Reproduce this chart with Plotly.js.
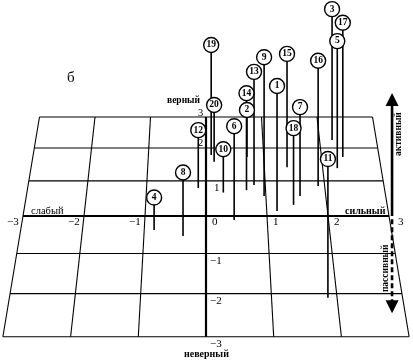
<!DOCTYPE html>
<html><head><meta charset="utf-8">
<script src="https://cdn.plot.ly/plotly-3.0.1.min.js"></script>
<style>html,body{margin:0;padding:0;background:#fff}#chart{width:413px;height:360px}
#chart .main-svg{will-change:transform}</style>
</head><body><div id="chart"></div>
<script>
// ---- data ----
const pointLabels = ['1','2','3','4','5','6','7','8','9','10','11','12','13','14','15','16','17','18','19','20'];
const strength    = [1.17, 0.71, 2.22, -0.84, 2.25, 0.46, 1.57, -0.37, 0.97, 0.29, 1.86, -0.13, 0.81, 0.68, 1.39, 1.89, 2.37, 1.45, 0.09, 0.14];   // слабый .. сильный
const correctness = [0.14, 1.72, 2.25, -0.38, 1.38, -0.11, 0.56, -0.54, 0.56, 0.66, -2.10, 0.79, 0.88, 0.73, 1.41, 0.85, 1.72, 0.31, 1.78, 1.57]; // неверный .. верный
const activity    = [3.06, 1.21, 3.43, 0.78, 3.24, 2.28, 2.21, 1.52, 3.45, 1.08, 3.15, 1.45, 2.84, 2.42, 2.89, 3.14, 3.46, 1.89, 2.84, 1.46];   // пассивный .. активный
const gridTicks   = [-3, -2, -1, 0, 1, 2, 3];
const xTickLabels = ['−3', '−2', '−1', '0', '1', '2', '3'];
const yTickLabels = ['−3', '−2', '−1', '0', '1', '2', '3'];
const activeMax = 3.0, passiveMin = -2.37;

// ---- perspective scale (floor u,v ; height z) -> plot coordinates ----
const K = 0.033, W = 61, HV = -29.14, CX = 206, CY = 216, ZS = 41;
function proj(u, v, z) {
  const d = 1 + K * v;
  return [CX + W * u / d, (HV * v + CY - ZS * (z || 0)) / d];
}
function segTrace(segs, width, dash) {
  const x = [], y = [];
  segs.forEach(s => { const a = proj(...s[0]), b = proj(...s[1]); x.push(a[0], b[0], null); y.push(a[1], b[1], null); });
  return {type: 'scatter', mode: 'lines', x, y, hoverinfo: 'skip',
          line: {color: '#000', width, dash: dash || 'solid'}};
}
const lo = gridTicks[0], hi = gridTicks[gridTicks.length - 1];
const gridSegs = [];
gridTicks.forEach(t => {
  if (t !== 0) gridSegs.push([[lo, t, 0], [hi, t, 0]]);
  if (t !== 0) gridSegs.push([[t, lo, 0], [t, hi, 0]]);
});
const traces = [];
traces.push(segTrace(gridSegs, 1.1));
traces.push(segTrace([[[lo, 0, 0], [hi, 0, 0]]], 1.8));
traces.push(segTrace([[[0, hi, 0], [0, lo, 0]]], 2.2));
// activity axis
const ax3 = 3.05;
traces.push(segTrace([[[ax3, 0, 0], [ax3, 0, activeMax - 0.15]]], 2.6));
traces.push(segTrace([[[ax3, 0, -0.08], [ax3, 0, passiveMin + 0.2]]], 2.6, '5px,3px'));
// stems
const stems = strength.map((u, i) => [[u, correctness[i], 0], [u, correctness[i], activity[i]]]);
traces.push(segTrace(stems, 1.6));
// circles
const cx = [], cy = [];
strength.forEach((u, i) => { const p = proj(u, correctness[i], activity[i]); cx.push(p[0]); cy.push(p[1]); });
traces.push({type: 'scatter', mode: 'markers+text', x: cx, y: cy, text: pointLabels,
  textposition: 'middle center', hoverinfo: 'skip',
  textfont: {family: 'Liberation Serif', size: 9.5, color: '#000', weight: 'bold'},
  marker: {size: 15, color: '#fff', line: {color: '#000', width: 1.4}}});

// ---- text ----
const serif = 'Liberation Serif';
const ann = [];
function label(text, x, y, xa, ya, size, bold, angle) {
  ann.push({text, x, y, xref: 'x', yref: 'y', xanchor: xa, yanchor: ya, showarrow: false,
    textangle: angle || 0, font: {family: serif, size, color: '#000', weight: bold ? 'bold' : 'normal'}});
}
gridTicks.forEach((t, i) => {
  const p = proj(t, 0, 0);
  if (t < 0) label(xTickLabels[i], p[0] - 2.5, p[1] + 5, 'right', 'middle', 11);
  else if (t > 0) label(xTickLabels[i], p[0] + (t === hi ? 7 : 4), p[1] + 5, 'left', 'middle', 11);
});
gridTicks.forEach((t, i) => {
  const p = proj(0, t, 0);
  if (t >= 2) label(yTickLabels[i], p[0] - 1, p[1] - 5, 'right', 'middle', 10.5);
  else if (t === 1) label(yTickLabels[i], p[0] + 6, p[1] + 6.5, 'left', 'middle', 11);
  else if (t === 0) label(yTickLabels[i], p[0] + 4, p[1] + 5, 'left', 'middle', 11);
  else label(yTickLabels[i], p[0] + 2, p[1] + 6.5, 'left', 'middle', 11);
});
const axTop = proj(0, hi, 0), axBot = proj(0, lo, 0);
label('верный', axTop[0] - 3, axTop[1] - 17.5, 'right', 'middle', 9.5, true);
label('неверный', axBot[0], axBot[1] + 17, 'center', 'middle', 10, true);
const axLeft = proj(lo, 0, 0), axRight = proj(hi, 0, 0);
label('слабый', axLeft[0] + 6, axLeft[1] - 6, 'left', 'middle', 10.5);
label('сильный', axRight[0] - 1, axRight[1] - 6, 'right', 'middle', 10, true);
const actPos = proj(ax3, 0, 2.0), pasPos = proj(ax3, 0, -1.27);
label('активный', actPos[0] + 6, actPos[1], 'center', 'middle', 9.5, true, -90);
label('пассивный', pasPos[0] - 7, pasPos[1], 'center', 'middle', 9.5, true, -90);
label('б', 71, 77, 'center', 'middle', 15);
// arrowheads
const aTip = proj(ax3, 0, activeMax), aTail = proj(ax3, 0, activeMax - 0.3);
const pTip = proj(ax3, 0, passiveMin), pTail = proj(ax3, 0, passiveMin + 0.3);
[[aTip, aTail], [pTip, pTail]].forEach(([tip, tail]) => ann.push({
  x: tip[0], y: tip[1], ax: tail[0], ay: tail[1], xref: 'x', yref: 'y', axref: 'x', ayref: 'y',
  text: '', showarrow: true, arrowhead: 2, arrowsize: 1, arrowwidth: 2.6, arrowcolor: '#000', standoff: 0}));

Plotly.newPlot('chart', traces, {
  width: 413, height: 360, margin: {l: 0, r: 0, t: 0, b: 0},
  paper_bgcolor: '#fff', plot_bgcolor: '#fff', showlegend: false,
  xaxis: {range: [0, 413], visible: false, fixedrange: true},
  yaxis: {range: [360, 0], visible: false, fixedrange: true},
  annotations: ann
}, {staticPlot: true, displayModeBar: false});
</script></body></html>
